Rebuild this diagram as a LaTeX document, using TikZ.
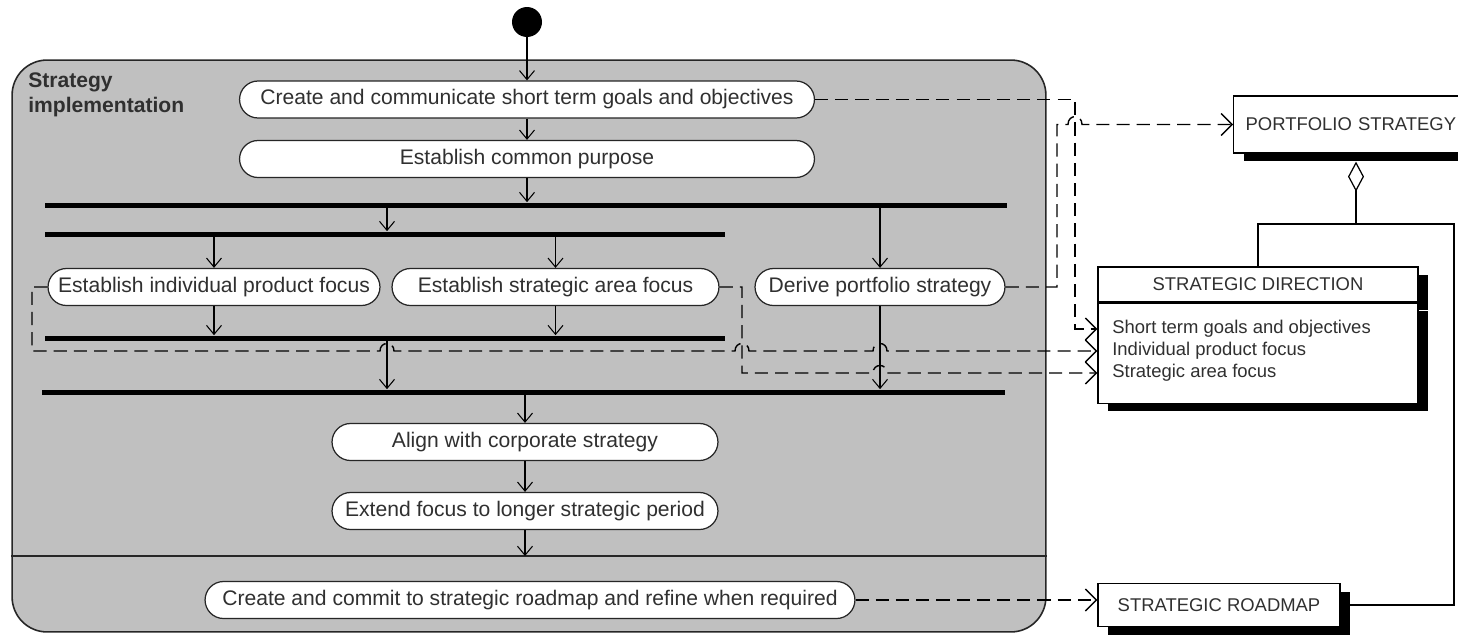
\documentclass[tikz,border=0pt]{standalone}
\usepackage{fontspec}
\setmainfont{Liberation Sans}
\usetikzlibrary{arrows.meta,shadows}
\definecolor{lanegray}{HTML}{C0C0C0}
\definecolor{inkgray}{HTML}{303030}

\begin{document}
\begin{tikzpicture}[
                x=0.02cm, y=-0.02cm,
                act/.style={draw=black!85, fill=white, line width=0.7pt, rounded corners=0.37cm,
                        minimum height=0.74cm, inner sep=0pt, text=inkgray,
                        font=\fontsize{12}{14}\selectfont},
                bar/.style={fill=black, minimum height=0.1cm, inner sep=0pt},
                flow/.style={line width=0.6pt, -{Straight Barb[length=0.18cm,width=0.3cm]}},
                dep/.style={line width=0.8pt, dash pattern=on 7.5pt off 4pt,
                        -{Straight Barb[length=0.22cm,width=0.44cm]}},
                cls/.style={draw=black, fill=white, line width=0.7pt, inner sep=0pt, text=inkgray,
                        font=\fontsize{10.5}{12}\selectfont,
                        drop shadow={shadow xshift=0.2cm, shadow yshift=-0.16cm, fill=black, opacity=1}},
                attr/.style={anchor=west, inner sep=0pt, text=inkgray, font=\fontsize{10.5}{12}\selectfont}
            ]
            \useasboundingbox (0,0) rectangle (1458,636);
            \clip (0,0) rectangle (1458,636);

            \node[draw=black!85, fill=lanegray, line width=0.9pt, rounded corners=0.7cm,
                minimum width=20.68cm, minimum height=11.44cm, inner sep=0pt] (lane) at (529,346) {};
            \coordinate (divy) at (0,556);
            \draw[line width=0.9pt, black!85] (lane.west |- divy) -- (lane.east |- divy);
            \node[anchor=north west, align=left, inner sep=0pt, text=inkgray,
                font=\bfseries\fontsize{12}{14.5}\selectfont] (title) at (28,72) {Strategy\\implementation};

            \node[circle, fill=black, minimum size=0.6cm, inner sep=0pt] (init) at (527,22) {};
            \node[act, minimum width=11.5cm] (goals) at (527,99.5) {Create and communicate short term goals and objectives};
            \node[act, minimum width=11.5cm] (purpose) at (527,159) {Establish common purpose};
            \node[bar, minimum width=19.24cm] (fork1) at (526,205) {};
            \node[bar, minimum width=13.6cm] (fork2) at (385,234) {};
            \node[act, minimum width=6.64cm] (indiv) at (214,287) {Establish individual product focus};
            \node[act, minimum width=6.54cm] (area) at (555.5,287) {Establish strategic area focus};
            \node[act, minimum width=5cm] (derive) at (880,287) {Derive portfolio strategy};
            \node[bar, minimum width=13.6cm] (join1) at (385,338) {};
            \node[bar, minimum width=19.26cm] (join2) at (523.5,392) {};
            \node[act, minimum width=7.72cm] (align) at (525,442) {Align with corporate strategy};
            \node[act, minimum width=7.72cm] (extend) at (525,511) {Extend focus to longer strategic period};
            \node[act, minimum width=13cm] (commit) at (530,600) {Create and commit to strategic roadmap and refine when required};

            \node[cls, anchor=west, minimum height=1.14cm, inner xsep=0.24cm, align=left,
                text width=4.9cm] (pf) at (1233,124.5) {PORTFOLIO STRATEGY};
            \node[cls, minimum width=6.4cm, minimum height=0.7cm] (sdir) at (1258,284.5) {STRATEGIC DIRECTION};
            \node[cls, minimum width=6.4cm, minimum height=2cm, anchor=north] (sdirb) at (sdir.south) {};
            \node[attr] (ltgoal) at (1112,329) {Short term goals and objectives};
            \node[attr] (lindiv) at (1112,351) {Individual product focus};
            \node[attr] (larea) at (1112,373) {Strategic area focus};
            \node[cls, minimum width=4.84cm, minimum height=0.86cm] (rmap) at (1219,605) {STRATEGIC ROADMAP};

            \coordinate (jx) at (387,0);
            \draw[flow] (init) -- (goals);
            \draw[flow] (goals) -- (purpose);
            \draw[flow] (purpose) -- (purpose.south |- fork1.north);
            \draw[flow] (fork1.south -| jx) -- (fork2.north -| jx);
            \draw[flow] (fork1.south -| derive.north) -- (derive);
            \draw[flow] (fork2.south -| indiv.north) -- (indiv);
            \draw[flow] (fork2.south -| area.north) -- (area);
            \draw[flow] (indiv) -- (indiv.south |- join1.north);
            \draw[flow] (area) -- (area.south |- join1.north);
            \draw[flow] (join1.south -| jx) -- (join2.north -| jx);
            \draw[flow] (derive) -- (derive.south |- join2.north);
            \draw[flow] (join2.south -| align.north) -- (align);
            \draw[flow] (align) -- (extend);
            \draw[flow] (extend) -- (extend.south |- divy);

            \draw[dep] (goals.east) -| (1075,329) -- (ltgoal -| sdirb.west);
            \draw[dep] (derive.east) -| (1057,124.5) -- (1068,124.5)
                .. controls (1068,114) and (1082,114) .. (1082,124.5) -- (pf.west);
            \draw[dep] (indiv.west) -| (32,351) -- (380,351)
                .. controls (380,341) and (394,341) .. (394,351) -- (735,351)
                .. controls (735,341) and (749,341) .. (749,351) -- (873,351)
                .. controls (873,341) and (887,341) .. (887,351) -- (lindiv -| sdirb.west);
            \draw[dep] (area.east) -| (742,373) -- (873,373)
                .. controls (873,363) and (887,363) .. (887,373) -- (larea -| sdirb.west);
            \draw[dep] (commit.east) -- (commit.east -| rmap.west);

            \coordinate (aggj) at (1356,224);
            \coordinate (aggr) at (1454,224);
            \coordinate (pfsh) at ([yshift=-0.16cm]pf.south);
            \draw[line width=0.7pt] (sdir.north) |- (aggj);
            \draw[line width=0.7pt] (rmap.east) -| (aggr) -- (aggj);
            \draw[line width=0.7pt, -{Diamond[fill=white,length=0.6cm,width=0.32cm]}] (aggj) -- (pfsh -| aggj);

        \end{tikzpicture}
\end{document}
